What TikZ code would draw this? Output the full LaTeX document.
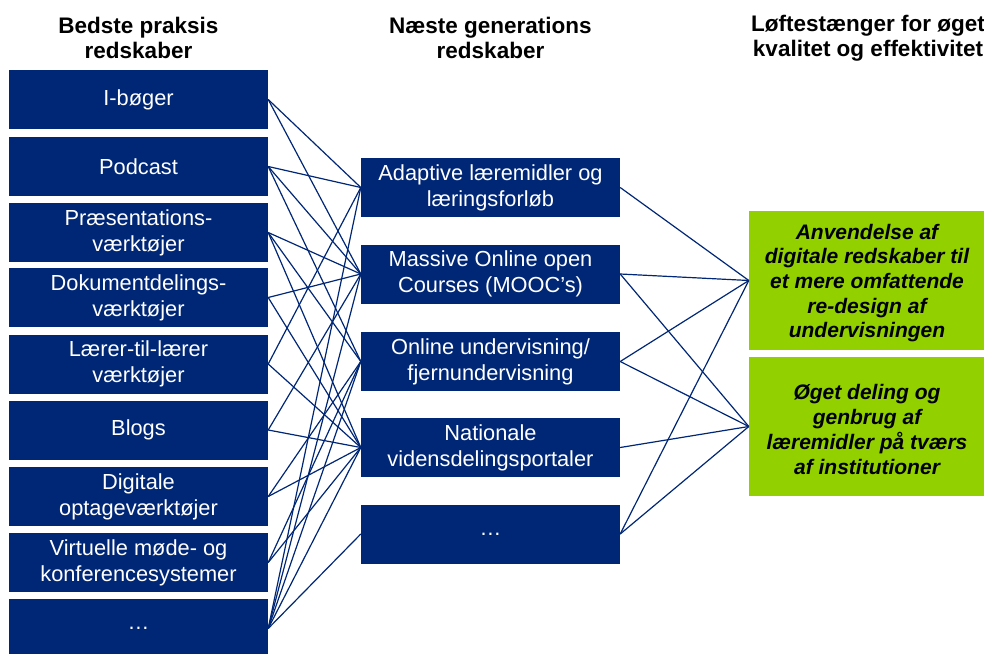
\documentclass[tikz,border=0pt]{standalone}
\usepackage{fontspec}
\setmainfont{Liberation Sans}
\definecolor{navy}{RGB}{0,39,118}
\definecolor{lime}{RGB}{146,208,0}
\begin{document}
\begin{tikzpicture}[x=1pt,y=-1pt,
  txt/.style={font=\fontsize{21.8}{26}\selectfont},
  head/.style={font=\fontsize{22.5}{25.5}\selectfont\bfseries, align=center, inner sep=0pt},
  lbox/.style={fill=navy, text=white, minimum width=259pt, minimum height=59pt, inner sep=0pt, align=center, txt},
  rbox/.style={fill=lime, minimum width=236pt, minimum height=139pt, inner sep=0pt},
  rtext/.style={text=black, inner sep=0pt, align=center, font=\fontsize{21}{24.7}\selectfont\bfseries\itshape},
  link/.style={draw=navy, line width=1.2pt}]
\useasboundingbox (0,0) rectangle (984,653);
% headers
\node[head] (h1) at (138.5,38) {Bedste praksis\\redskaber};
\node[head] (h2) at (490.5,38) {Næste generations\\redskaber};
\node[head] (h3) at (868,38) {Løftestænger for øget\\kvalitet og effektivitet};
% left column
\node[lbox] (l1) at (138.5,99.5) {I-bøger};
\node[lbox] (l2) at (138.5,166.5) {Podcast};
\node[lbox] (l3) at (138.5,232.5) {Præsentations-\\værktøjer};
\node[lbox] (l4) at (138.5,297.5) {Dokumentdelings-\\værktøjer};
\node[lbox] (l5) at (138.5,364) {Lærer-til-lærer\\værktøjer};
\node[lbox] (l6) at (138.5,430) {Blogs};
\node[lbox] (l7) at (138.5,496.5) {Digitale\\optageværktøjer};
\node[lbox] (l8) at (138.5,562.5) {Virtuelle møde- og\\konferencesystemer};
\node[lbox] (l9) at (138.5,628.5) {…};
% middle column
\node[lbox] (m1) at (490.5,187.5) {Adaptive læremidler og\\læringsforløb};
\node[lbox] (m2) at (490.5,274) {Massive Online open\\Courses (MOOC’s)};
\node[lbox] (m3) at (490.5,361.5) {Online undervisning/\\fjernundervisning};
\node[lbox] (m4) at (490.5,447.5) {Nationale\\vidensdelingsportaler};
\node[lbox] (m5) at (490.5,534) {…};
% right column
\node[rbox] (r1) at (867,280.5) {};
\node[rtext] (r1t) at (867,283) {Anvendelse af\\digitale redskaber til\\et mere omfattende\\re-design af\\undervisningen};
\node[rbox] (r2) at (867,426.5) {};
\node[rtext] (r2t) at (867,429.5) {Øget deling og\\genbrug af\\læremidler på tværs\\af institutioner};
% left to middle
\foreach \a/\b in {l1/m1,l1/m2,
                   l2/m1,l2/m2,l2/m3,
                   l3/m2,l3/m3,l3/m4,
                   l4/m2,l4/m4,
                   l5/m1,l5/m4,
                   l6/m2,l6/m4,
                   l7/m3,l7/m4,
                   l8/m3,l8/m4,
                   l9/m1,l9/m2,l9/m3,l9/m4,l9/m5}
  \draw[link] (\a.east) -- (\b.west);
% middle to right
\foreach \a/\b in {m1/r1,m2/r1,m2/r2,m3/r1,m3/r2,m4/r2,m5/r1,m5/r2}
  \draw[link] (\a.east) -- (\b.west);
\end{tikzpicture}
\end{document}
